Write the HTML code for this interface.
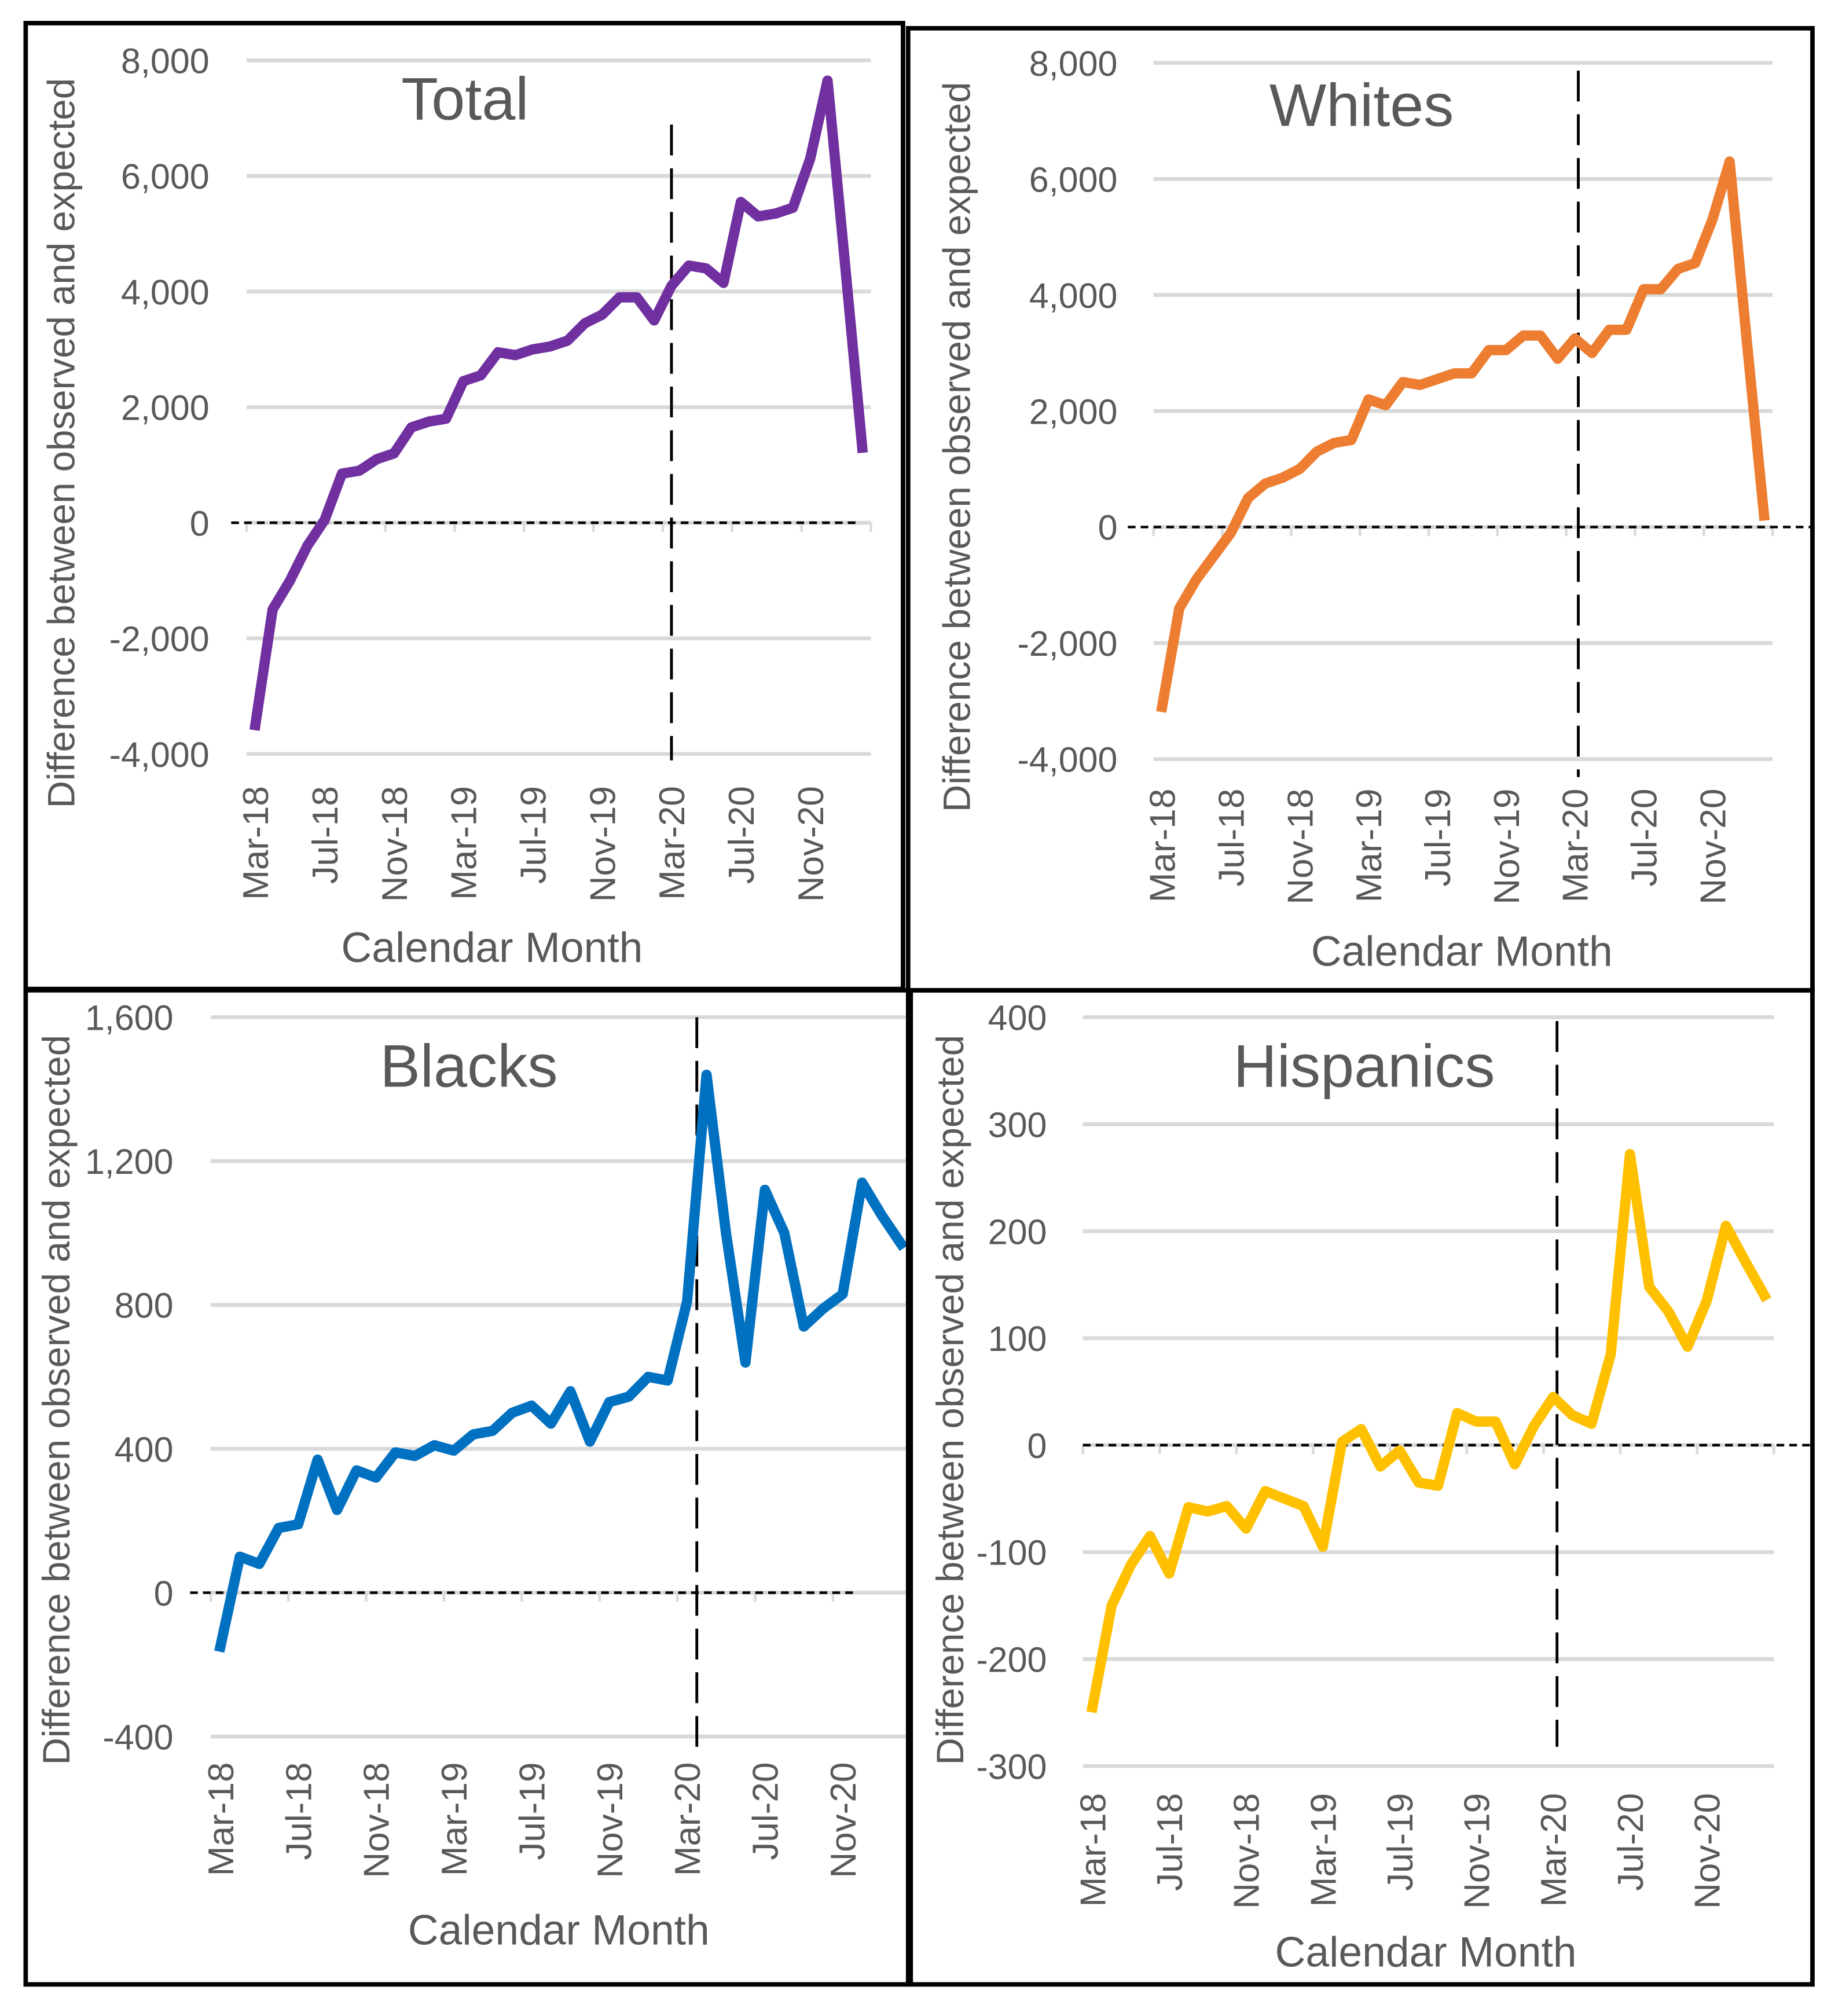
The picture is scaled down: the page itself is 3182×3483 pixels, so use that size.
<!DOCTYPE html>
<html><head><meta charset="utf-8"><style>
html,body{margin:0;padding:0;background:#fff;}
svg{display:block;}
text{font-family:"Liberation Sans",sans-serif;fill:#595959;}
</style></head><body>
<svg id="fig" xmlns="http://www.w3.org/2000/svg" width="3182" height="3483" viewBox="0 0 1434 1569.6" preserveAspectRatio="none">
<rect x="0" y="0" width="1434" height="1570" fill="#fff"/>
</svg>
<script>
const months = ["Mar-18","Apr-18","May-18","Jun-18","Jul-18","Aug-18","Sep-18","Oct-18","Nov-18","Dec-18","Jan-19","Feb-19","Mar-19","Apr-19","May-19","Jun-19","Jul-19","Aug-19","Sep-19","Oct-19","Nov-19","Dec-19","Jan-20","Feb-20","Mar-20","Apr-20","May-20","Jun-20","Jul-20","Aug-20","Sep-20","Oct-20","Nov-20","Dec-20","Jan-21","Feb-21"];
const tickLabels = ["Mar-18","Jul-18","Nov-18","Mar-19","Jul-19","Nov-19","Mar-20","Jul-20","Nov-20"];
const totalValues = [-3500,-1500,-1000,-400,50,850,900,1100,1200,1650,1750,1800,2450,2550,2950,2900,3000,3050,3150,3450,3600,3900,3900,3500,4100,4450,4400,4150,5550,5300,5350,5450,6300,7650,4500,1300];
const whitesValues = [-3100,-1400,-900,-500,-100,500,750,850,1000,1300,1450,1500,2200,2100,2500,2450,2550,2650,2650,3050,3050,3300,3300,2900,3250,3000,3400,3400,4100,4100,4450,4550,5300,6300,3200,200];
const blacksValues = [-150,100,80,180,190,370,230,340,320,390,380,410,395,440,450,500,520,470,560,420,530,545,600,590,810,1440,1000,640,1120,1000,740,790,830,1140,1050,970];
const hispanicsValues = [-245,-150,-112,-85,-120,-58,-62,-57,-78,-43,-50,-57,-95,3,15,-20,-5,-35,-38,30,22,22,-18,18,45,28,20,85,272,148,125,92,135,205,172,140];
const totalTicks = [-4000,-2000,0,2000,4000,6000,8000];
const whitesTicks = [-4000,-2000,0,2000,4000,6000,8000];
const blacksTicks = [-400,0,400,800,1200,1600];
const hispanicsTicks = [-300,-200,-100,0,100,200,300,400];

const NS = "http://www.w3.org/2000/svg";
const svg = document.getElementById('fig');
function mk(tag, attrs, parent){const e=document.createElementNS(NS,tag);for(const k in attrs)e.setAttribute(k,attrs[k]);(parent||svg).appendChild(e);return e;}
function fmt(v){return v.toLocaleString('en-US');}

const panels = [
 {key:'total',title:'Total',vals:totalValues,ticks:totalTicks,color:'#7030A0',
  box:[20,18,703,770],x0:192,x1:678,yTop:47,yBot:587,vMin:-4000,vMax:8000,labelX:163,
  titleX:362,titleY:93,yTitleX:58,yTitleY:345,xLabY:612,cmX:383,cmY:749,
  zeroX:[180,668],vIdx:24,vY:[97,592]},
 {key:'whites',title:'Whites',vals:whitesValues,ticks:whitesTicks,color:'#ED7D31',
  box:[707,22,1411,771],x0:898,x1:1380,yTop:49,yBot:591,vMin:-4000,vMax:8000,labelX:870,
  titleX:1060,titleY:98,yTitleX:755,yTitleY:348,xLabY:614,cmX:1138,cmY:752,
  zeroX:[878,1411],vIdx:24.2,vY:[55,605]},
 {key:'blacks',title:'Blacks',vals:blacksValues,ticks:blacksTicks,color:'#0070C0',
  box:[20,771,707,1545],x0:164,x1:709,yTop:792,yBot:1352,vMin:-400,vMax:1600,labelX:135,
  titleX:365,titleY:846,yTitleX:54,yTitleY:1090,xLabY:1372,cmX:435,cmY:1514,
  zeroX:[148,668],vIdx:24.5,vY:[792,1360]},
 {key:'hispanics',title:'Hispanics',vals:hispanicsValues,ticks:hispanicsTicks,color:'#FFC000',
  box:[709,771,1411,1545],x0:843,x1:1381,yTop:792,yBot:1375,vMin:-300,vMax:400,labelX:815,
  titleX:1062,titleY:846,yTitleX:750,yTitleY:1090,xLabY:1396,cmX:1110,cmY:1531,
  zeroX:[843,1411],vIdx:24.2,vY:[795,1360]}
];

panels.forEach(p=>{
  const g = mk('g',{});
  
  
  const n = months.length;
  const bw = (p.x1-p.x0)/n;
  const xs = i => p.x0 + bw*(i+0.5);
  const ys = v => p.yBot - (v-p.vMin)/(p.vMax-p.vMin)*(p.yBot-p.yTop);
  p.ticks.forEach(t=>{
    const gl = mk('line',{x1:p.x0,x2:Math.min(p.x1,p.box[2]-2),y1:ys(t),y2:ys(t),stroke:'#D9D9D9','stroke-width':3},g);
    
    
    const tl = mk('text',{x:p.labelX,y:ys(t)+10,'text-anchor':'end','font-size':27.5},g);
    tl.textContent = fmt(t);
    
    
  });
  for(let k=0;k<=n;k+=4){
    const x=p.x0+bw*k; if(x>p.box[2]-2) continue;
    const tm = mk('line',{x1:x,x2:x,y1:ys(0),y2:ys(0)+7,stroke:'#D9D9D9','stroke-width':2},g);
    
    
  }
  tickLabels.forEach(lab=>{
    const i = months.indexOf(lab);
    const x = xs(i);
    const t = mk('text',{x:0,y:0,'text-anchor':'end','font-size':28,transform:`translate(${x+10},${p.xLabY}) rotate(-90)`},g);
    t.textContent = lab;
    
    
  });
  const zl = mk('line',{x1:p.zeroX[0],x2:p.zeroX[1],y1:ys(0),y2:ys(0),stroke:'#000','stroke-width':2,'stroke-dasharray':'6,4'},g);
  
  
  const vx = xs(p.vIdx);
  const vl = mk('line',{x1:vx,x2:vx,y1:p.vY[0],y2:p.vY[1],stroke:'#000','stroke-width':2.2,'stroke-dasharray':'24,10'},g);
  
  
  const pts = p.vals.map((v,i)=>xs(i).toFixed(2)+','+ys(v).toFixed(2)).join(' ');
  const pl = mk('polyline',{points:pts,fill:'none',stroke:p.color,'stroke-width':8,'stroke-linejoin':'round','stroke-linecap':'square'},g);
  
  
  const tt = mk('text',{x:p.titleX,y:p.titleY,'text-anchor':'middle','font-size':47},g);
  tt.textContent = p.title;
  
  
  const yt = mk('text',{x:0,y:0,'text-anchor':'middle','font-size':29.5,transform:`translate(${p.yTitleX},${p.yTitleY}) rotate(-90)`},g);
  yt.textContent = 'Difference between observed and expected';
  
  
  const xt = mk('text',{x:p.cmX,y:p.cmY,'text-anchor':'middle','font-size':33},g);
  xt.textContent = 'Calendar Month';
  
  
  const b = p.box;
  const br = mk('rect',{x:b[0],y:b[1],width:b[2]-b[0],height:b[3]-b[1],fill:'none',stroke:'#000','stroke-width':3.5},g);
  
  
});
</script>
</body></html>
